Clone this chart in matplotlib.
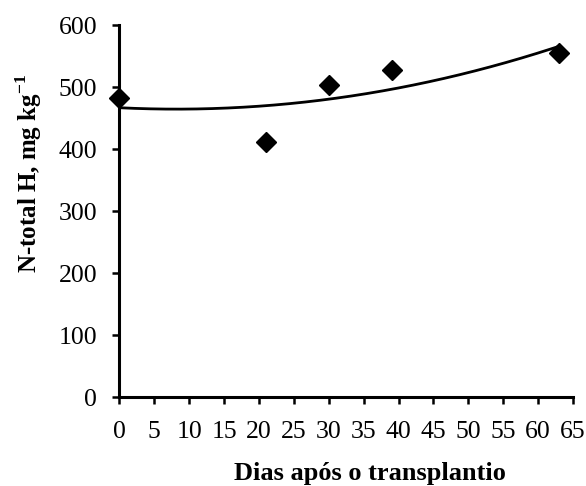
import matplotlib
matplotlib.use("Agg")
import matplotlib.pyplot as plt
import numpy as np

# values
dias = [0, 21, 30, 39, 63]
n_total = [482, 411, 503, 528, 555]
x_ticks = list(range(0, 70, 5))
y_ticks = list(range(0, 700, 100))

plt.rcParams["font.family"] = ["Liberation Serif", "DejaVu Serif"]
plt.rcParams["mathtext.fontset"] = "custom"
plt.rcParams["mathtext.rm"] = "Liberation Serif"
plt.rcParams["mathtext.bf"] = "Liberation Serif:bold"

fig = plt.figure(figsize=(5.86, 4.86), dpi=100)
ax = fig.add_axes([0.2039, 0.1831, 0.7739, 0.7654])

# quadratic trend line fitted to the points
coef = np.polyfit(dias, n_total, 2)
xs = np.linspace(min(dias), max(dias), 200)
ax.plot(xs, np.polyval(coef, xs), color="black", lw=2.0, zorder=2, clip_on=False)

ax.plot(dias, n_total, linestyle="none", marker="D", ms=10.3,
        color="black", zorder=3, clip_on=False)

ax.set_xlim(0, 65)
ax.set_ylim(0, 600)
ax.set_xticks(x_ticks)
ax.set_yticks(y_ticks)

for side in ["top", "right"]:
    ax.spines[side].set_visible(False)
for side in ["left", "bottom"]:
    ax.spines[side].set_linewidth(2.2)

ax.tick_params(axis="both", direction="out", length=5, width=1.8,
               labelsize=18.5)
ax.tick_params(axis="x", pad=12)
ax.tick_params(axis="y", pad=11)

ax.set_xlabel("Dias após o transplantio", fontsize=19, fontweight="bold")
ax.xaxis.set_label_coords(0.553, -0.175)
ax.set_ylabel(r"N-total H, mg kg$^{\mathbf{-1}}$", fontsize=18,
              fontweight="bold")
ax.yaxis.set_label_coords(-0.166, 0.6)

fig.savefig("out.png", dpi=100)
